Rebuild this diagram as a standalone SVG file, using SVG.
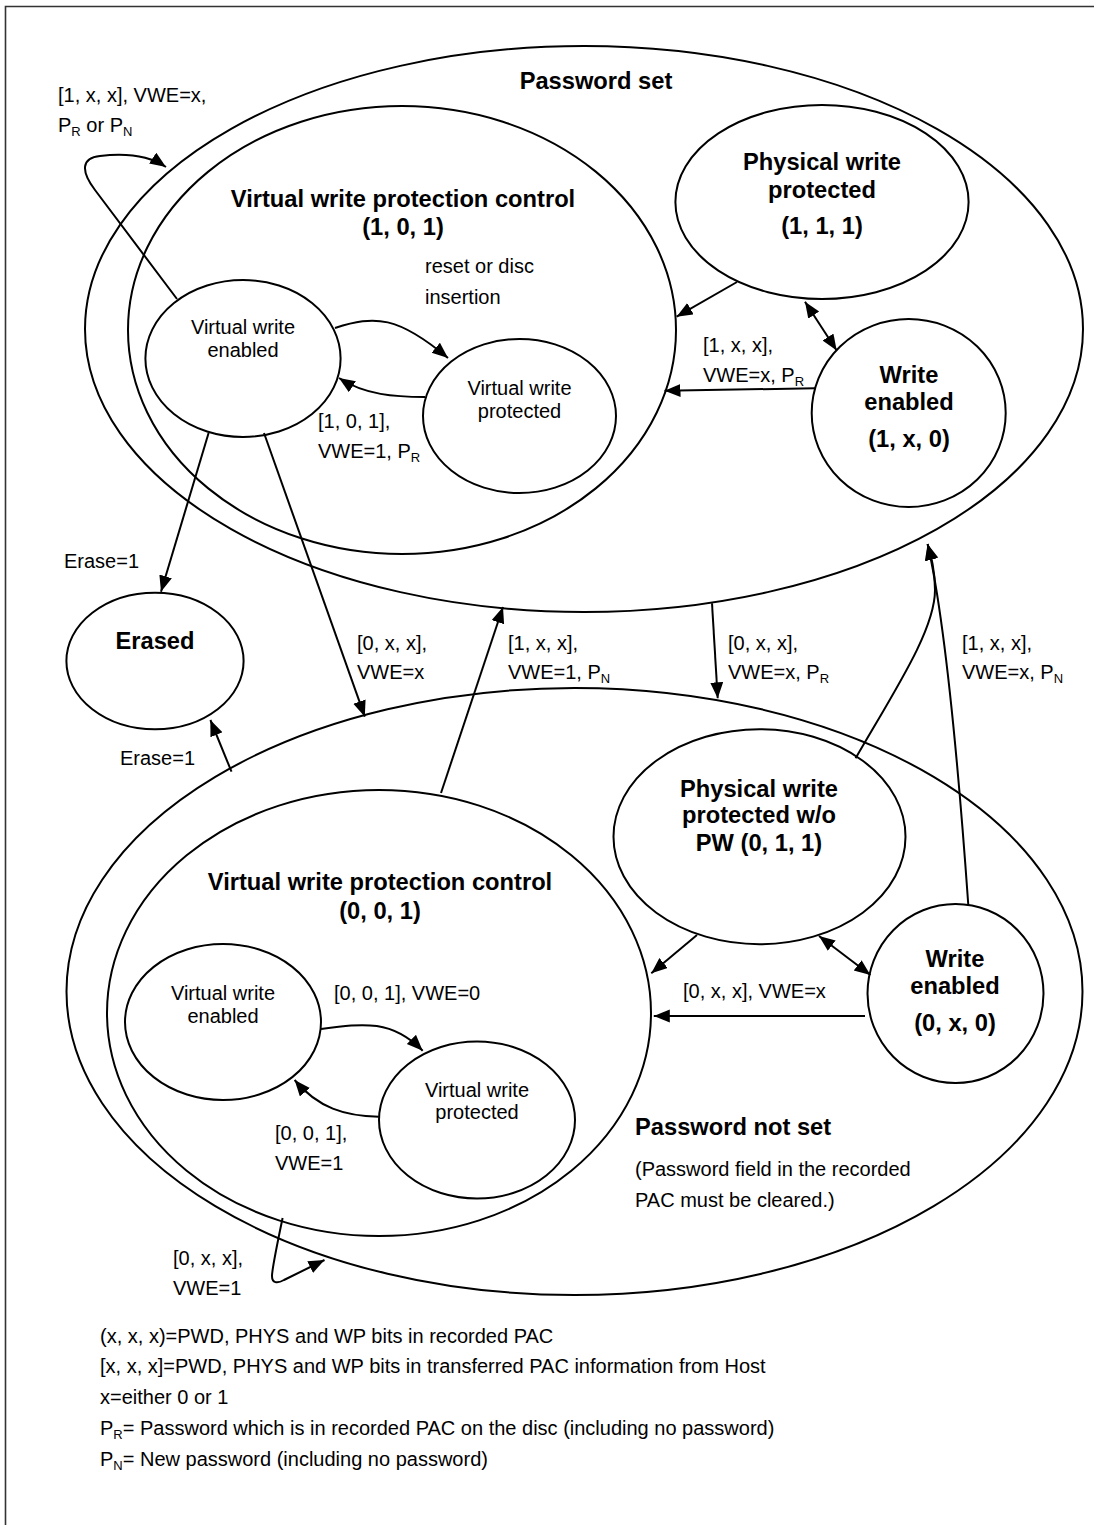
<svg xmlns="http://www.w3.org/2000/svg" width="1094" height="1525" viewBox="0 0 1094 1525">
<style>
.n{fill:none;stroke:#000;stroke-width:2}
.t{font-family:"Liberation Sans",Arial,sans-serif;font-size:20px;fill:#000}
.m{text-anchor:middle}
.b{font-weight:bold;font-size:23.7px}
.c{fill:none;stroke:#000;stroke-width:2;marker-end:url(#ah)}
.d{fill:none;stroke:#000;stroke-width:2;marker-end:url(#ah);marker-start:url(#ah)}
.s{font-size:13px}
</style>
<defs>
<marker id="ah" markerUnits="userSpaceOnUse" markerWidth="18" markerHeight="14" refX="16" refY="6.5" orient="auto-start-reverse" viewBox="0 0 18 14">
<path d="M0,0 L16,6.5 L0,13 z" fill="#000"/>
</marker>
</defs>
<rect width="1094" height="1525" fill="#fff"/>
<path d="M5.5,1525 V6.5 H1094" fill="none" stroke="#333" stroke-width="1.6"/>

<g id="password-set">
<ellipse class="n" cx="584" cy="329" rx="499" ry="283"/>
<text class="t b m" x="596" y="89">Password set</text>
</g>
<g id="vwpc-set">
<ellipse class="n" cx="402" cy="330" rx="274" ry="224"/>
<text class="t b m" x="403" y="207">Virtual write protection control</text>
<text class="t b m" x="403" y="235">(1, 0, 1)</text>
</g>
<g id="vwe-set">
<ellipse class="n" cx="243" cy="358.5" rx="97.6" ry="78.5"/>
<text class="t m" x="243" y="334">Virtual write</text>
<text class="t m" x="243" y="357">enabled</text>
</g>
<g id="vwp-set">
<ellipse class="n" cx="519.5" cy="416" rx="96.5" ry="77"/>
<text class="t m" x="519.5" y="395">Virtual write</text>
<text class="t m" x="519.5" y="418">protected</text>
</g>
<g id="pwp-set">
<ellipse class="n" cx="822" cy="202" rx="146.6" ry="97"/>
<text class="t b m" x="822" y="170">Physical write</text>
<text class="t b m" x="822" y="198">protected</text>
<text class="t b m" x="822" y="234">(1, 1, 1)</text>
</g>
<g id="we-set">
<ellipse class="n" cx="908.7" cy="413" rx="97" ry="94"/>
<text class="t b m" x="909" y="383">Write</text>
<text class="t b m" x="909" y="410">enabled</text>
<text class="t b m" x="909" y="447">(1, x, 0)</text>
</g>
<g id="erased">
<ellipse class="n" cx="155" cy="661" rx="88.6" ry="68.3"/>
<text class="t b m" x="155" y="649">Erased</text>
</g>
<g id="password-not-set">
<ellipse class="n" cx="574.5" cy="991.5" rx="508" ry="303.5"/>
<text class="t b" x="635" y="1135">Password not set</text>
<text class="t" x="635" y="1176">(Password field in the recorded</text>
<text class="t" x="635" y="1207">PAC must be cleared.)</text>
</g>
<g id="vwpc-notset">
<ellipse class="n" cx="379" cy="1013" rx="272" ry="223"/>
<text class="t b m" x="380" y="890">Virtual write protection control</text>
<text class="t b m" x="380" y="919">(0, 0, 1)</text>
</g>
<g id="vwe-notset">
<ellipse class="n" cx="223" cy="1022" rx="98" ry="78"/>
<text class="t m" x="223" y="1000">Virtual write</text>
<text class="t m" x="223" y="1023">enabled</text>
</g>
<g id="vwp-notset">
<ellipse class="n" cx="477" cy="1120" rx="98" ry="78.5"/>
<text class="t m" x="477" y="1097">Virtual write</text>
<text class="t m" x="477" y="1119">protected</text>
</g>
<g id="pwp-notset">
<ellipse class="n" cx="759.5" cy="836.7" rx="146" ry="107.5"/>
<text class="t b m" x="759" y="797">Physical write</text>
<text class="t b m" x="759" y="823">protected w/o</text>
<text class="t b m" x="759" y="851">PW (0, 1, 1)</text>
</g>
<g id="we-notset">
<ellipse class="n" cx="955.5" cy="993.5" rx="88" ry="89.5"/>
<text class="t b m" x="955" y="967">Write</text>
<text class="t b m" x="955" y="994">enabled</text>
<text class="t b m" x="955" y="1031">(0, x, 0)</text>
</g>

<g id="connectors">
<path class="c" d="M177,299 L95,190 C80,170 82,158 100,156 C125,153 148,155 166,167"/>
<path class="c" d="M335,328 C375,315 398,316 448,358"/>
<path class="c" d="M425,397 C395,397 365,395 339,378"/>
<path class="c" d="M737,282 L676.6,316.7"/>
<path class="d" d="M805,301.7 L836.7,350.5"/>
<path class="c" d="M815,388.3 L664.5,390.7"/>
<path class="c" d="M208.6,433 L161,591.7"/>
<path class="c" d="M264,433 L364.8,716.7"/>
<path class="c" d="M441,793 L503,607"/>
<path class="c" d="M712,603.3 L717.7,698.3"/>
<path class="c" d="M855.6,758.3 C895,690 935,630 935,590 C935,570 931,556 927.6,544"/>
<path class="c" d="M968.3,905 C958,760 945,620 927.6,544"/>
<path class="c" d="M231.5,771.7 L210.4,720"/>
<path class="c" d="M697,935 L651.3,973.3"/>
<path class="d" d="M819,936 L870.4,975"/>
<path class="c" d="M865,1016 L653.8,1016"/>
<path class="c" d="M321,1029 C365,1023 392,1020 422.7,1050.7"/>
<path class="c" d="M378.8,1116.7 C345,1116 318,1108 294.6,1080"/>
<path class="c" d="M282.6,1218 C278,1240 272,1270 272,1276 C272,1283 277,1284 284,1280 L324.5,1260"/>
</g>

<g id="labels">
<text class="t" x="58" y="102">[1, x, x], VWE=x,</text>
<text class="t" x="58" y="132">P<tspan class="s" dy="4">R</tspan><tspan dy="-4"> or P</tspan><tspan class="s" dy="4">N</tspan></text>
<text class="t" x="425" y="273">reset or disc</text>
<text class="t" x="425" y="304">insertion</text>
<text class="t" x="318" y="428">[1, 0, 1],</text>
<text class="t" x="318" y="458">VWE=1, P<tspan class="s" dy="4">R</tspan></text>
<text class="t" x="703" y="352">[1, x, x],</text>
<text class="t" x="703" y="382">VWE=x, P<tspan class="s" dy="4">R</tspan></text>
<text class="t" x="64" y="568">Erase=1</text>
<text class="t" x="357" y="650">[0, x, x],</text>
<text class="t" x="357" y="679">VWE=x</text>
<text class="t" x="508" y="650">[1, x, x],</text>
<text class="t" x="508" y="679">VWE=1, P<tspan class="s" dy="4">N</tspan></text>
<text class="t" x="728" y="650">[0, x, x],</text>
<text class="t" x="728" y="679">VWE=x, P<tspan class="s" dy="4">R</tspan></text>
<text class="t" x="962" y="650">[1, x, x],</text>
<text class="t" x="962" y="679">VWE=x, P<tspan class="s" dy="4">N</tspan></text>
<text class="t" x="120" y="765">Erase=1</text>
<text class="t" x="683" y="998">[0, x, x], VWE=x</text>
<text class="t" x="334" y="1000">[0, 0, 1], VWE=0</text>
<text class="t" x="275" y="1140">[0, 0, 1],</text>
<text class="t" x="275" y="1170">VWE=1</text>
<text class="t" x="173" y="1265">[0, x, x],</text>
<text class="t" x="173" y="1295">VWE=1</text>
</g>

<g id="legend">
<text class="t" x="100" y="1343">(x, x, x)=PWD, PHYS and WP bits in recorded PAC</text>
<text class="t" x="100" y="1373">[x, x, x]=PWD, PHYS and WP bits in transferred PAC information from Host</text>
<text class="t" x="100" y="1404">x=either 0 or 1</text>
<text class="t" x="100" y="1435">P<tspan class="s" dy="4">R</tspan><tspan dy="-4">= Password which is in recorded PAC on the disc (including no password)</tspan></text>
<text class="t" x="100" y="1466">P<tspan class="s" dy="4">N</tspan><tspan dy="-4">= New password (including no password)</tspan></text>
</g>
</svg>
